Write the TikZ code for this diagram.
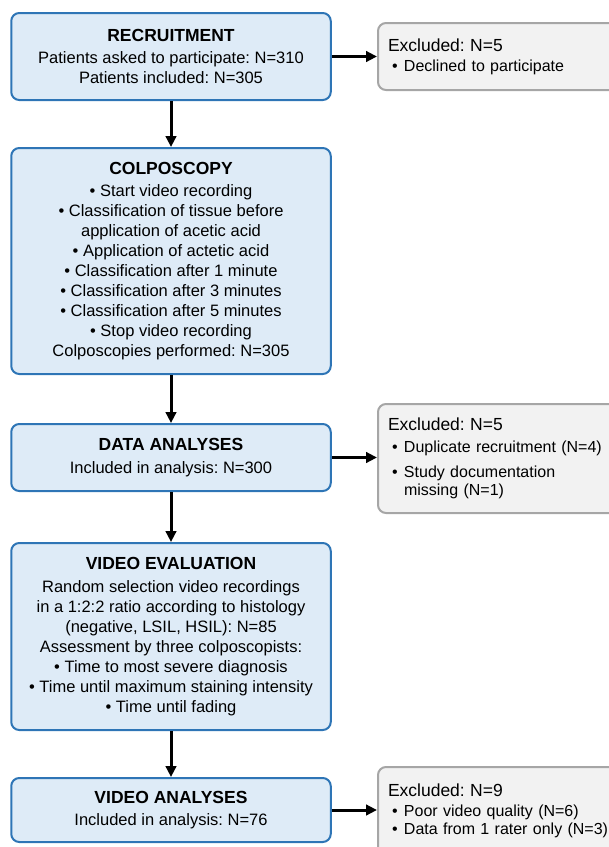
\documentclass[tikz,border=0pt]{standalone}
\usepackage{fontspec}
\setmainfont{Liberation Sans}
\usetikzlibrary{arrows.meta}
\definecolor{bluefill}{HTML}{DEEBF7}
\definecolor{blueline}{HTML}{2E75B6}
\definecolor{grayfill}{HTML}{F2F2F2}
\definecolor{grayline}{HTML}{A6A6A6}
\newcommand{\ttl}[1]{{\fontsize{17.5}{20}\selectfont\bfseries #1}\\[2.6pt]}
\newcommand{\hdr}[1]{{\fontsize{17.5}{18}\selectfont #1}}
\newcommand{\gb}{\hspace*{4pt}\makebox[12pt][l]{\textbullet}}
\newcommand{\gc}{\hspace*{16pt}}
\frenchspacing
\begin{document}
\begin{tikzpicture}[x=1pt,y=-1pt,
  bluebox/.style={draw=blueline, fill=bluefill, line width=2pt, rounded corners=8pt,
    minimum width=319.5pt, inner sep=0pt, align=center, font=\fontsize{16.5}{20}\selectfont\frenchspacing},
  graybox/.style={draw=grayline, fill=grayfill, line width=2pt, rounded corners=8pt,
    anchor=west, inner xsep=10pt, inner ysep=0pt, text width=240pt, align=left,
    font=\fontsize{16}{18}\selectfont\frenchspacing},
  arr/.style={line width=3pt, -{Triangle[length=11pt,width=10.5pt]}}]
\useasboundingbox (0,0) rectangle (609,847);
\clip (0,0) rectangle (609,847);

\node[bluebox, minimum height=87pt] (rec) at (171,56.5)
  {\ttl{RECRUITMENT}Patients asked to participate: N=310\\Patients included: N=305};
\node[bluebox, minimum height=226pt] (col) at (171,261)
  {\ttl{COLPOSCOPY}\textbullet\ Start video recording\\
   \textbullet\ Classification of tissue before\\
   application of acetic acid\\
   \textbullet\ Application of actetic acid\\
   \textbullet\ Classification after 1 minute\\
   \textbullet\ Classification after 3 minutes\\
   \textbullet\ Classification after 5 minutes\\
   \textbullet\ Stop video recording\\
   Colposcopies performed: N=305};
\node[bluebox, minimum height=67pt] (dat) at (171,457.5)
  {\ttl{DATA ANALYSES}Included in analysis: N=300};
\node[bluebox, minimum height=187pt] (eva) at (171,636.5)
  {\ttl{VIDEO EVALUATION}Random selection video recordings\\
   in a 1:2:2 ratio according to histology\\
   (negative, LSIL, HSIL): N=85\\
   Assessment by three colposcopists:\\
   \textbullet\ Time to most severe diagnosis\\
   \textbullet\ Time until maximum staining intensity\\
   \textbullet\ Time until fading};
\node[bluebox, minimum height=64pt] (van) at (171,810)
  {\ttl{VIDEO ANALYSES}Included in analysis: N=76};

\node[graybox, minimum height=67pt] (g1) at (377,56.5)
  {\hdr{Excluded: N=5}\\[2pt]\gb Declined to participate};
\node[graybox, minimum height=109pt] (g2) at (377,458.5)
  {\hdr{Excluded: N=5}\\[4pt]\gb Duplicate recruitment (N=4)\\[7.4pt]
   \gb Study documentation\\\gc missing (N=1)};
\node[graybox, minimum height=88pt] (g3) at (377,811)
  {\hdr{Excluded: N=9}\\[2pt]\gb Poor video quality (N=6)\\
   \gb Data from 1 rater only (N=3)};

\draw[arr] (rec.south) -- (col.north);
\draw[arr] (col.south) -- (dat.north);
\draw[arr] (dat.south) -- (eva.north);
\draw[arr] (eva.south) -- (van.north);
\draw[arr] (rec.east) -- (rec.east -| g1.west);
\draw[arr] (dat.east) -- (dat.east -| g2.west);
\draw[arr] (van.east) -- (van.east -| g3.west);
\end{tikzpicture}
\end{document}
